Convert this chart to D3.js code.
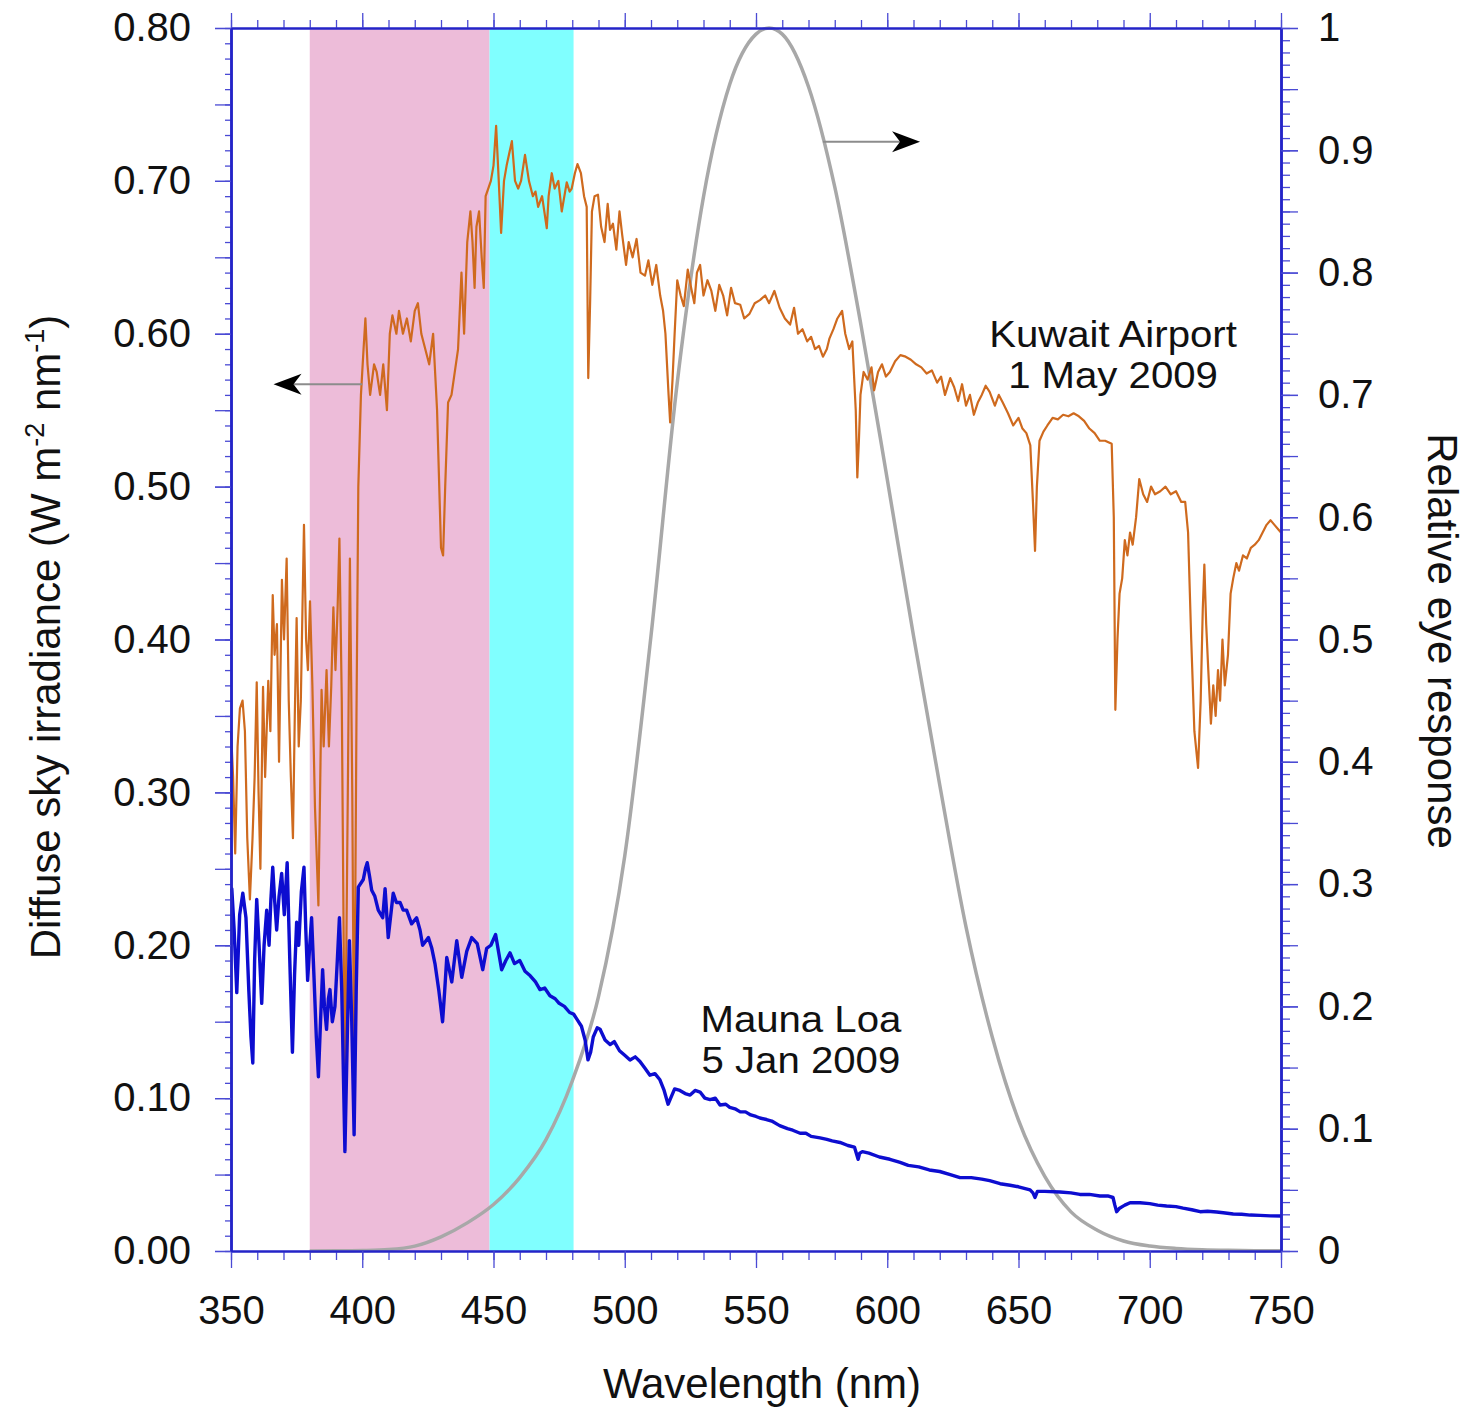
<!DOCTYPE html>
<html><head><meta charset="utf-8">
<script src="https://cdn.jsdelivr.net/npm/d3@7/dist/d3.min.js"></script>
<style>
body{margin:0;background:#fff}
text{font-family:"Liberation Sans",Arial,Helvetica,sans-serif;fill:#111}
</style>
</head><body>
<svg id="chart" width="1468" height="1411"></svg>
<script>
// ---------------- data ----------------
const xDomain = [350, 750];
const yLeftDomain = [0, 0.8];
const yRightDomain = [0, 1];
const xMajorTicks = [350, 400, 450, 500, 550, 600, 650, 700, 750];
const yLeftLabelTicks = [0, 0.1, 0.2, 0.3, 0.4, 0.5, 0.6, 0.7, 0.8];
const yRightLabelTicks = [0, 0.1, 0.2, 0.3, 0.4, 0.5, 0.6, 0.7, 0.8, 0.9, 1];
const bandRanges = [[380, 448.5], [448.5, 480.5]];

// Kuwait Airport, 1 May 2009 (left axis)
const kuwait = [
[350,0.34],[350.8,0.31],[351.6,0.26],[352.5,0.33],[353.4,0.355],[354.4,0.36],[355.3,0.34],[356.2,0.27],[357.2,0.23],[358.2,0.27],
[359,0.31],[359.8,0.372],[360.5,0.30],[361.2,0.25],[362.2,0.369],[363,0.31],[364.2,0.373],[365,0.34],[365.9,0.429],[366.6,0.39],
[367.5,0.41],[368.3,0.32],[369.4,0.439],[370.2,0.40],[371.2,0.453],[372,0.36],[372.8,0.31],[373.6,0.27],[374.3,0.35],[375,0.414],
[375.8,0.33],[376.6,0.36],[377.8,0.475],[378.6,0.40],[379.3,0.38],[380.1,0.425],[381,0.37],[382,0.29],[383.3,0.226],[384.5,0.367],
[385.3,0.33],[386.4,0.38],[387.3,0.33],[388.2,0.37],[389,0.421],[389.8,0.38],[390.6,0.42],[391.3,0.466],[392.2,0.36],[393.4,0.10],
[394.5,0.30],[395.3,0.453],[396.2,0.30],[396.9,0.11],[397.8,0.35],[398.5,0.50],[399.5,0.56],[400.5,0.59],[401.2,0.61],[402,0.58],
[403,0.56],[404.5,0.58],[405.5,0.575],[406.8,0.56],[408,0.58],[409.4,0.55],[410.5,0.60],[411.5,0.612],[413,0.60],[414,0.615],
[415.5,0.60],[417,0.61],[418.5,0.595],[420,0.615],[421.2,0.62],[422.5,0.60],[424,0.59],[425.5,0.58],[427,0.60],[428.5,0.55],
[430,0.46],[430.8,0.455],[431.6,0.50],[432.7,0.555],[434,0.56],[435.5,0.578],[436.5,0.59],[437.8,0.64],[438.8,0.60],[440,0.66],
[441.2,0.68],[442,0.66],[442.8,0.63],[443.5,0.67],[444.5,0.68],[445.5,0.65],[446.3,0.63],[447,0.69],[448,0.695],[449,0.70],
[450,0.71],[451,0.736],[452,0.70],[452.9,0.666],[454,0.70],[455,0.71],[457,0.726],[458.2,0.70],[459.4,0.695],[460.5,0.70],
[462,0.717],[463.5,0.70],[465,0.69],[466,0.693],[467,0.683],[468.5,0.69],[470.3,0.669],[471,0.69],[472.2,0.705],[473.3,0.695],
[474.7,0.70],[476,0.68],[477.9,0.699],[479,0.693],[479.8,0.695],[481,0.705],[482,0.711],[483.3,0.705],[484.5,0.69],[485.5,0.683],
[486.1,0.571],[486.8,0.62],[487.5,0.68],[488.5,0.69],[489.8,0.691],[491,0.67],[492.3,0.66],[493.5,0.685],[494.4,0.668],[495.5,0.672],
[496.8,0.655],[498,0.68],[499,0.665],[500.5,0.645],[501.5,0.66],[503,0.65],[504.5,0.662],[506,0.64],[507.7,0.638],[509,0.648],
[510.5,0.632],[512,0.645],[513.5,0.625],[514.6,0.615],[515.5,0.60],[516.7,0.56],[517.3,0.542],[518.2,0.57],[519,0.60],[520,0.635],
[521.3,0.625],[522.5,0.618],[524,0.642],[525.3,0.63],[526.5,0.62],[527.5,0.64],[528.7,0.645],[530,0.625],[531.5,0.635],[533,0.628],
[534.5,0.615],[536,0.632],[537.5,0.625],[539,0.612],[540.5,0.63],[542,0.62],[544,0.619],[545.5,0.61],[547.5,0.613],[549.5,0.62],
[551.5,0.622],[553.5,0.625],[555,0.62],[557,0.628],[559,0.617],[561,0.61],[563,0.606],[564.5,0.617],[566,0.60],[567.7,0.603],
[569.5,0.595],[571,0.598],[572.5,0.59],[574,0.592],[575.5,0.585],[577,0.59],[578,0.597],[579.5,0.603],[581,0.61],[582.8,0.615],
[584,0.60],[585.5,0.59],[586.7,0.595],[588,0.55],[588.6,0.506],[589.2,0.53],[589.8,0.56],[591,0.575],[592.5,0.57],[594,0.578],
[595,0.563],[596.5,0.575],[598,0.58],[599.5,0.572],[601,0.575],[603,0.582],[605,0.586],[607,0.585],[609,0.583],[611,0.58],
[613,0.578],[615,0.574],[617,0.576],[619,0.568],[620.5,0.572],[622,0.56],[624,0.571],[625.5,0.565],[627,0.556],[628.5,0.567],
[630,0.553],[631.5,0.56],[633,0.547],[634.5,0.555],[636,0.56],[637.5,0.566],[639,0.562],[641,0.553],[642.5,0.56],[644,0.555],
[646,0.548],[648,0.54],[650,0.545],[651.5,0.538],[653,0.535],[654.5,0.527],[655.5,0.49],[656.3,0.458],[657,0.50],[658,0.53],
[659.5,0.536],[661,0.54],[663,0.545],[665,0.544],[667,0.547],[669,0.546],[671,0.548],[673,0.546],[675,0.543],[677,0.538],
[679,0.535],[681,0.53],[683,0.53],[685.5,0.528],[686.3,0.48],[686.9,0.354],[687.7,0.40],[688.5,0.43],[689.5,0.44],[690.5,0.465],
[691.5,0.455],[692.5,0.47],[693.5,0.462],[694.8,0.48],[696,0.505],[697.5,0.495],[699,0.49],[700.5,0.50],[702,0.495],[704,0.497],
[706,0.50],[708,0.495],[710,0.497],[712,0.49],[713.5,0.49],[714.6,0.47],[715.8,0.40],[717,0.34],[718.4,0.316],[719.4,0.36],
[720.2,0.42],[720.8,0.449],[721.5,0.41],[722.3,0.38],[723.3,0.345],[724.2,0.37],[725.1,0.35],[726,0.38],[726.8,0.36],[727.7,0.40],
[728.6,0.37],[729.8,0.39],[730.8,0.43],[731.8,0.44],[733,0.45],[734,0.445],[735.5,0.455],[737,0.453],[738.5,0.46],[740,0.462],
[741.5,0.465],[743,0.47],[744.5,0.475],[746,0.478],[747.5,0.475],[749,0.472],[750,0.47]
];

// Mauna Loa, 5 Jan 2009 (left axis)
const maunaLoa = [
[350,0.237],[350.3,0.237],[351.2,0.21],[352.2,0.169],[353.3,0.22],[354.5,0.234],[355.7,0.218],[356.8,0.17],[357.6,0.14],[358.3,0.123],
[359,0.19],[359.8,0.23],[360.7,0.20],[361.7,0.162],[362.6,0.20],[363.6,0.223],[364.5,0.20],[365.2,0.23],[365.9,0.251],[366.6,0.23],
[367.4,0.21],[368.3,0.232],[369.3,0.247],[370.3,0.22],[371.4,0.254],[372.4,0.19],[373.4,0.13],[374.2,0.18],[375,0.215],[375.8,0.2],
[376.8,0.235],[377.8,0.251],[378.5,0.21],[379.2,0.177],[380,0.2],[380.7,0.218],[381.6,0.18],[382.5,0.14],[383.3,0.114],[384.1,0.15],
[384.9,0.184],[385.6,0.16],[386.4,0.145],[387.1,0.165],[387.7,0.171],[388.6,0.15],[389.6,0.16],[390.5,0.19],[391.3,0.218],[392.2,0.17],
[393.4,0.065],[394.3,0.14],[395.1,0.203],[396,0.15],[396.9,0.076],[397.7,0.17],[398.5,0.238],[400.4,0.243],[401.2,0.25],[401.9,0.254],
[402.8,0.245],[403.6,0.236],[404.8,0.232],[406.1,0.223],[407.8,0.218],[408.7,0.237],[409.9,0.205],[411.8,0.234],[413,0.228],[414.4,0.228],
[415.6,0.223],[416.9,0.223],[418.8,0.214],[420.7,0.218],[422,0.21],[423,0.2],[425.2,0.205],[426.5,0.198],[427.7,0.188],[429.2,0.17],
[430.6,0.15],[431.4,0.17],[432.2,0.192],[434.1,0.176],[436,0.203],[437.9,0.179],[439.8,0.196],[441.7,0.205],[443.8,0.201],[445.9,0.184],
[447.4,0.198],[449,0.2],[450.8,0.207],[452,0.195],[453.1,0.184],[454.7,0.19],[456.3,0.195],[458,0.188],[460,0.19],[462,0.183],
[464,0.18],[466,0.176],[467.7,0.171],[469.5,0.172],[471.5,0.167],[473.5,0.165],[475,0.162],[477,0.16],[479,0.156],[480.5,0.155],
[482,0.151],[483.5,0.147],[484.9,0.138],[486,0.125],[487,0.13],[488,0.14],[489.5,0.146],[490.6,0.145],[492.5,0.138],[494.4,0.135],
[496,0.137],[498,0.131],[500,0.128],[502,0.125],[504,0.127],[505.8,0.124],[507.5,0.12],[509.6,0.115],[511.5,0.116],[513.4,0.112],
[515,0.105],[516.5,0.096],[517.5,0.1],[519,0.106],[521,0.105],[523,0.103],[524.9,0.102],[526.8,0.105],[528.7,0.104],[530.5,0.1],
[532.5,0.099],[534.5,0.1],[536.3,0.0955],[538.5,0.096],[540,0.094],[542,0.093],[544,0.091],[546,0.091],[548,0.089],[550,0.088],
[551.5,0.087],[554,0.086],[556,0.085],[559,0.082],[562,0.08],[564,0.079],[566.8,0.077],[569,0.077],[571,0.075],[574.4,0.074],
[577,0.073],[579,0.072],[582,0.071],[585,0.069],[587.5,0.068],[588.9,0.06],[589.5,0.064],[590.5,0.065],[593,0.064],[597,0.0615],
[601,0.06],[604.9,0.058],[608,0.056],[612,0.055],[616,0.053],[620,0.052],[624,0.05],[627.7,0.048],[632,0.048],[636,0.047],
[639,0.046],[643,0.044],[646.8,0.043],[650,0.042],[654.4,0.04],[655.5,0.038],[656.3,0.035],[657.2,0.039],[660,0.039],[665.8,0.0386],
[670,0.038],[673.4,0.037],[677,0.037],[681,0.036],[684,0.036],[686,0.035],[686.7,0.03],[687.4,0.0257],[688.5,0.028],[690.5,0.030],
[692.5,0.0316],[696.3,0.0316],[700,0.031],[703,0.030],[706.4,0.0294],[710,0.029],[712.7,0.028],[716,0.027],[719.2,0.0257],[722,0.026],
[725.5,0.0255],[728,0.025],[731.8,0.0242],[735,0.024],[738.3,0.0235],[742,0.0233],[746,0.023],[750,0.0229]
];

// Relative eye response (right axis)
const eyeResponse = [
[380,0.00004],[390,0.00012],[400,0.0004],[410,0.0012],[420,0.004],[430,0.0116],[440,0.023],[450,0.038],[460,0.06],[470,0.091],
[480,0.139],[490,0.208],[500,0.323],[510,0.503],[520,0.71],[530,0.862],[540,0.954],[550,0.995],[555,1.0],[560,0.995],
[570,0.952],[580,0.87],[590,0.757],[600,0.631],[610,0.503],[620,0.381],[630,0.265],[640,0.175],[650,0.107],[660,0.061],
[670,0.032],[680,0.017],[690,0.0082],[700,0.0041],[710,0.0021],[720,0.00105],[730,0.00052],[740,0.00025],[750,0.00012]
];

// annotations (data coordinates)
const labelKuwait = {lines: ["Kuwait Airport", "1 May 2009"], nm: 686, value: 0.5913};
const labelMauna = {lines: ["Mauna Loa", "5 Jan 2009"], nm: 567.1, value: 0.1433};
const arrowLeft = {fromNm: 400, toNm: 366.2, value: 0.567};      // left axis
const arrowRight = {fromNm: 575.5, toNm: 612.5, value: 0.907};   // right axis

// ---------------- drawing ----------------
const C = {
  axis: "#2424c8", tick: "#4a4ad4", pink: "#edbcd9", cyan: "#80ffff",
  orange: "#cf6a1e", blue: "#0d0dd0", gray: "#a8a8a8", arrowLine: "#8c8c8c"
};
const FONT = 40;
const svg = d3.select("#chart");
const x = d3.scaleLinear().domain(xDomain).range([231, 1281]);
const yL = d3.scaleLinear().domain(yLeftDomain).range([1251, 28]);
const yR = d3.scaleLinear().domain(yRightDomain).range([1251, 28]);

// bands
svg.append("g").selectAll("rect").data(bandRanges).join("rect")
  .attr("x", d => x(d[0])).attr("width", d => x(d[1]) - x(d[0]))
  .attr("y", yL(yLeftDomain[1])).attr("height", yL(0) - yL(yLeftDomain[1]))
  .attr("fill", (d, i) => i === 0 ? C.pink : C.cyan);

// gray eye response
svg.append("path").datum(eyeResponse)
  .attr("fill", "none").attr("stroke", C.gray).attr("stroke-width", 3.5)
  .attr("d", d3.line().x(d => x(d[0])).y(d => yR(d[1])).curve(d3.curveMonotoneX));

// spectra
svg.append("path").datum(kuwait)
  .attr("fill", "none").attr("stroke", C.orange).attr("stroke-width", 2.2).attr("stroke-linejoin", "round")
  .attr("d", d3.line().x(d => x(d[0])).y(d => yL(d[1])));
svg.append("path").datum(maunaLoa)
  .attr("fill", "none").attr("stroke", C.blue).attr("stroke-width", 3.4).attr("stroke-linejoin", "round")
  .attr("d", d3.line().x(d => x(d[0])).y(d => yL(d[1])));

// arrows
function arrow(x0, x1, yy) {
  const dir = Math.sign(x1 - x0);
  const g = svg.append("g");
  g.append("line").attr("x1", x0).attr("x2", x1 - dir * 20).attr("y1", yy).attr("y2", yy)
    .attr("stroke", C.arrowLine).attr("stroke-width", 2);
  g.append("path")
    .attr("d", `M${x1},${yy} L${x1 - dir * 28},${yy - 10.5} L${x1 - dir * 20},${yy} L${x1 - dir * 28},${yy + 10.5} Z`)
    .attr("fill", "#000");
}
arrow(x(arrowLeft.fromNm), x(arrowLeft.toNm), yL(arrowLeft.value));
arrow(x(arrowRight.fromNm), x(arrowRight.toNm), yR(arrowRight.value));

// axes
const rnd = v => Math.round(v * 1000) / 1000;
const xMinor = d3.range(350, 751, 10);
const yLMinor = d3.range(0, 81, 1).map(v => rnd(v / 100));
const yLMid = d3.range(0, 81, 5).map(v => rnd(v / 100));
const yRMinor = d3.range(0, 101, 1).map(v => rnd(v / 100));
const yRMid = d3.range(0, 101, 5).map(v => rnd(v / 100));

function styleAxis(g) {
  g.select(".domain").attr("stroke", C.axis).attr("stroke-width", 2.2);
  g.selectAll(".tick line").attr("stroke", C.tick).attr("stroke-width", 1.3);
  g.selectAll("text").attr("font-size", FONT).attr("font-family", '"Liberation Sans",Arial,Helvetica,sans-serif').attr("fill", "#111");
}
function axisG(transform, ax) {
  const g = svg.append("g").attr("transform", transform).call(ax);
  styleAxis(g); return g;
}
// bottom
axisG("translate(0,1251)", d3.axisBottom(x).tickValues(xMinor).tickSize(9).tickSizeOuter(0).tickFormat(""));
axisG("translate(0,1251)", d3.axisBottom(x).tickValues(xMajorTicks).tickSize(17).tickSizeOuter(0).tickPadding(28).tickFormat(d3.format("d")));
// top
axisG("translate(0,28)", d3.axisTop(x).tickValues(xMinor).tickSize(8).tickSizeOuter(0).tickFormat(""));
axisG("translate(0,28)", d3.axisTop(x).tickValues(xMajorTicks).tickSize(15).tickSizeOuter(0).tickFormat(""));
// left
axisG("translate(231,0)", d3.axisLeft(yL).tickValues(yLMinor).tickSize(6).tickSizeOuter(0).tickFormat(""));
axisG("translate(231,0)", d3.axisLeft(yL).tickValues(yLMid).tickSize(16).tickSizeOuter(0).tickFormat(""));
axisG("translate(231,0)", d3.axisLeft(yL).tickValues(yLeftLabelTicks).tickSize(16).tickSizeOuter(0).tickPadding(24).tickFormat(d3.format(".2f")));
// right
axisG("translate(1281,0)", d3.axisRight(yR).tickValues(yRMinor).tickSize(9).tickSizeOuter(0).tickFormat(""));
axisG("translate(1281,0)", d3.axisRight(yR).tickValues(yRMid).tickSize(17).tickSizeOuter(0).tickFormat(""));
axisG("translate(1281,0)", d3.axisRight(yR).tickValues(yRightLabelTicks).tickSize(17).tickSizeOuter(0).tickPadding(20)
  .tickFormat(d => (d === 0 || d === 1) ? d3.format("d")(d) : d3.format(".1f")(d)));

// annotations (slightly wide glyphs, as in the reference)
function label(obj, yScale) {
  obj.lines.forEach((s, i) => {
    svg.append("g")
      .attr("transform", `translate(${x(obj.nm)},${yScale(obj.value) + i * 41}) scale(1.1,1)`)
      .append("text").attr("text-anchor", "middle").attr("font-size", 36.5).text(s);
  });
}
label(labelKuwait, yL);
label(labelMauna, yL);

// axis titles
svg.append("text").attr("text-anchor", "middle").attr("font-size", 42)
  .attr("x", 762).attr("y", 1398).text("Wavelength (nm)");

const lt = svg.append("text").attr("text-anchor", "middle").attr("font-size", 42)
  .attr("transform", "translate(60,637) rotate(-90)");
lt.append("tspan").text("Diffuse sky irradiance (W m");
lt.append("tspan").attr("font-size", 27).attr("dy", -16).text("-2");
lt.append("tspan").attr("dy", 16).text(" nm");
lt.append("tspan").attr("font-size", 27).attr("dy", -16).text("-1");
lt.append("tspan").attr("dy", 16).text(")");

svg.append("text").attr("text-anchor", "middle").attr("font-size", 42)
  .attr("transform", "translate(1428,641) rotate(90)").text("Relative eye response");
</script>
</body></html>
